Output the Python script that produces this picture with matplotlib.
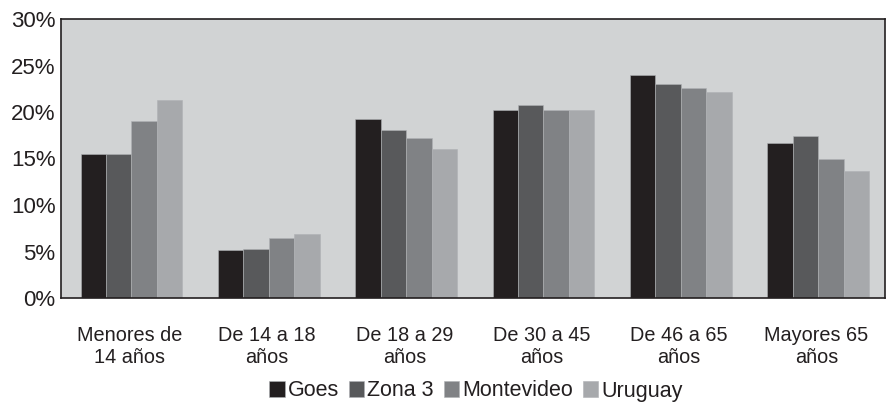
import matplotlib.pyplot as plt
import numpy as np

plt.rcParams['font.family'] = ['Liberation Sans', 'DejaVu Sans']

categorias = ['Menores de\n14 años', 'De 14 a 18\naños', 'De 18 a 29\naños',
              'De 30 a 45\naños', 'De 46 a 65\naños', 'Mayores 65\naños']
series = ['Goes', 'Zona 3', 'Montevideo', 'Uruguay']
goes = [15.5, 5.2, 19.2, 20.2, 24.0, 16.7]
zona3 = [15.5, 5.3, 18.1, 20.8, 23.0, 17.4]
montevideo = [19.0, 6.4, 17.2, 20.2, 22.6, 14.9]
uruguay = [21.3, 6.9, 16.0, 20.2, 22.1, 13.7]
colores = ['#231f20', '#58595b', '#808285', '#a7a9ac']

fig = plt.figure(figsize=(8.91, 4.03), dpi=100)
ax = fig.add_axes([61 / 891, 1 - 298 / 403, 824 / 891, 279 / 403])
ax.set_facecolor('#d1d3d4')

x = np.arange(len(categorias))
w = 0.185
for i, (nombre, vals) in enumerate(zip(series, [goes, zona3, montevideo, uruguay])):
    ax.bar(x + (i - 1.5) * w + 0.013, vals, w, color=colores[i], label=nombre,
           edgecolor='#b0b2b5', linewidth=0.4)

ax.set_xlim(-0.5, len(categorias) - 0.5)
ax.set_ylim(0, 30)
ax.set_yticks(np.arange(0, 31, 5))
ax.set_yticklabels([f'{v}%' for v in range(0, 31, 5)], fontsize=16, color='#231f20')
ax.set_xticks(x)
ax.set_xticklabels(categorias, fontsize=14.3, color='#231f20', linespacing=1.2)
ax.tick_params(length=0, axis='y', pad=4)
ax.tick_params(length=0, axis='x', pad=20)
for s in ax.spines.values():
    s.set_color('#231f20')
    s.set_linewidth(1.2)

fig.legend(loc='center', bbox_to_anchor=(476 / 891, 1 - 391 / 403), ncol=4, frameon=False,
           fontsize=15.5, handlelength=0.72, handleheight=0.72, handletextpad=0.15,
           columnspacing=0.45, labelcolor='#231f20', borderpad=0)

fig.savefig('out.png', dpi=100)
